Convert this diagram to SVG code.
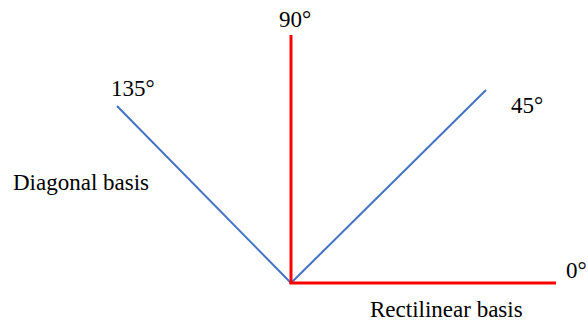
<svg xmlns="http://www.w3.org/2000/svg" width="588" height="323" viewBox="0 0 588 323">
<style>
text{font-family:"Liberation Serif","Times New Roman",serif;font-size:23px;fill:#000}
.red{stroke:#ff0000;stroke-width:3;fill:none}
.blue{stroke:#4472c4;stroke-width:2;fill:none}
</style>
<rect width="588" height="323" fill="#fff"/>
<g id="connectors">
<line class="blue" x1="291" y1="283" x2="117" y2="106"/>
<line class="blue" x1="291" y1="283" x2="486" y2="90"/>
<line class="red" x1="291" y1="284" x2="291" y2="35"/>
<line class="red" x1="289.5" y1="283" x2="556" y2="283"/>
</g>
<g id="label90"><text x="279" y="27">90°</text></g>
<g id="label135"><text x="111" y="96">135°</text></g>
<g id="label45"><text x="511" y="113">45°</text></g>
<g id="label0"><text x="566" y="278">0°</text></g>
<g id="diagonal"><text x="13" y="190">Diagonal basis</text></g>
<g id="rectilinear"><text x="370" y="317">Rectilinear basis</text></g>
</svg>
